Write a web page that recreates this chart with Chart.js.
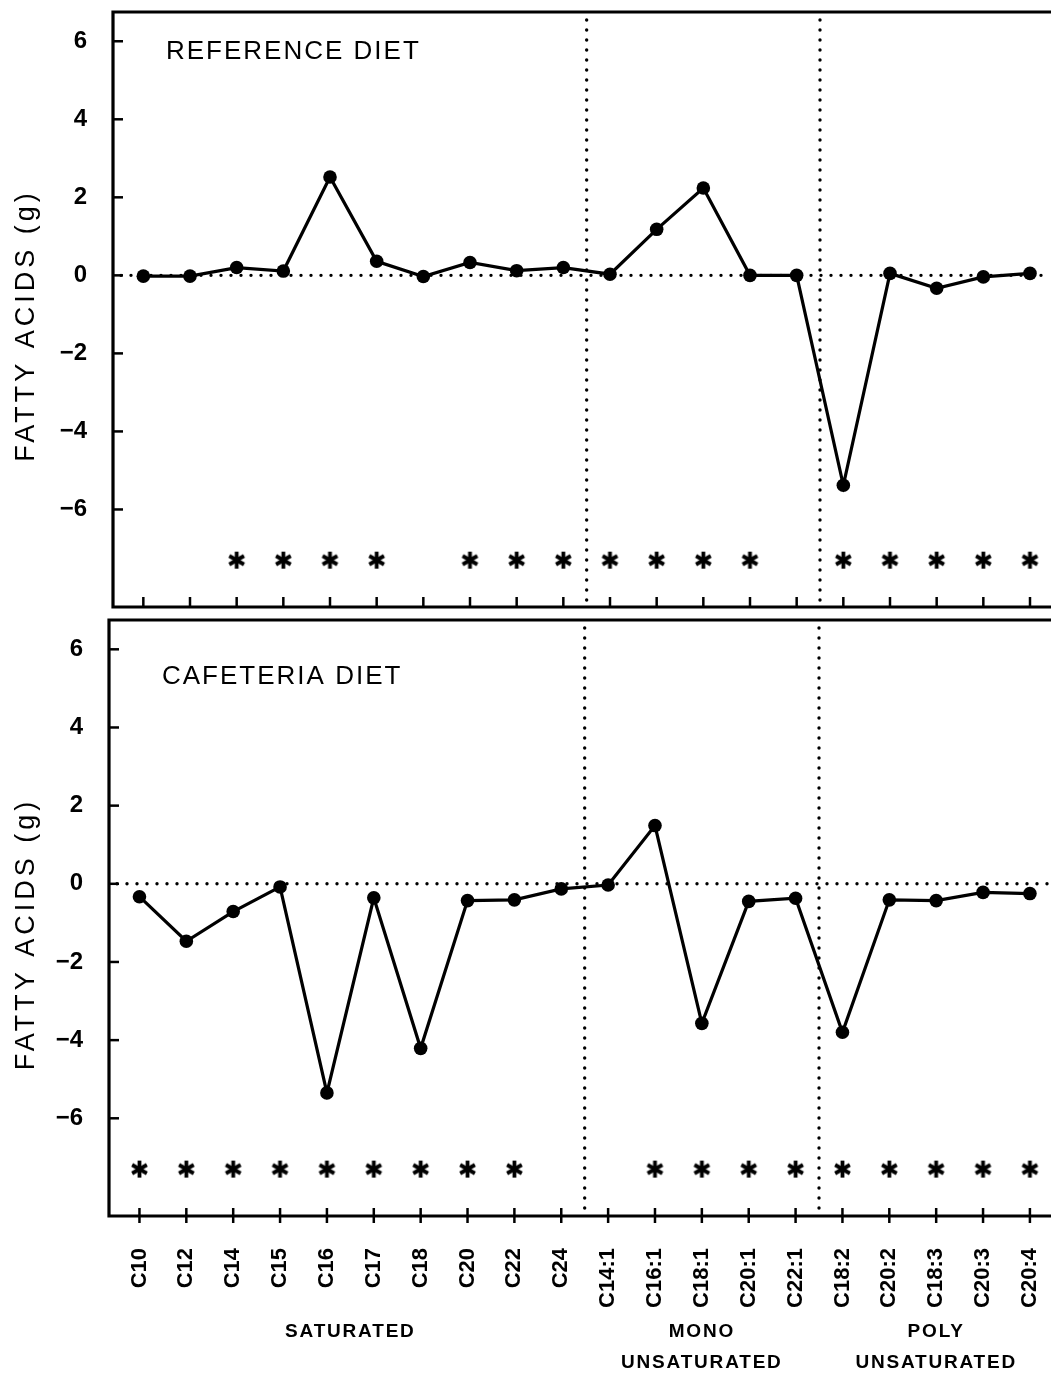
<!DOCTYPE html>
<html>
<head>
<meta charset="utf-8">
<script src="https://cdn.jsdelivr.net/npm/chart.js@4.4.1/dist/chart.umd.min.js"></script>
<style>
  html, body { margin: 0; padding: 0; background: #fff; overflow: hidden; }
  #wrap { position: relative; width: 1051px; height: 1375px; }
  canvas { position: absolute; left: 0; }
  #topChart { top: 0; }
  #bottomChart { top: 612px; }
</style>
</head>
<body>
<div id="wrap">
  <canvas id="topChart" width="1051" height="615"></canvas>
  <canvas id="bottomChart" width="1051" height="763"></canvas>
</div>
<script>
// fatty acids on the x axis
const categories = ['C10', 'C12', 'C14', 'C15', 'C16', 'C17', 'C18', 'C20', 'C22', 'C24',
  'C14:1', 'C16:1', 'C18:1', 'C20:1', 'C22:1',
  'C18:2', 'C20:2', 'C18:3', 'C20:3', 'C20:4'];

// change in fatty acids (g)
const referenceDiet = [-0.02, -0.02, 0.2, 0.11, 2.52, 0.36, -0.03, 0.33, 0.12, 0.2,
  0.03, 1.18, 2.24, 0, 0,
  -5.38, 0.05, -0.33, -0.04, 0.05];
const cafeteriaDiet = [-0.33, -1.47, -0.71, -0.08, -5.35, -0.36, -4.21, -0.43, -0.41, -0.13,
  -0.03, 1.49, -3.57, -0.45, -0.37,
  -3.8, -0.41, -0.43, -0.22, -0.25];

// 1 = asterisk under the point
const referenceSignificant = [0, 0, 1, 1, 1, 1, 0, 1, 1, 1, 1, 1, 1, 1, 0, 1, 1, 1, 1, 1];
const cafeteriaSignificant = [1, 1, 1, 1, 1, 1, 1, 1, 1, 0, 0, 1, 1, 1, 1, 1, 1, 1, 1, 1];

const yTicks = [-6, -4, -2, 0, 2, 4, 6];
const starLevel = -7.3;

// groups of fatty acids (first/last category index)
const groupNames = [['SATURATED'], ['MONO', 'UNSATURATED'], ['POLY', 'UNSATURATED']];
const groupStart = [0, 10, 15];
const groupEnd = [9, 14, 19];

const FONT = "'Liberation Sans', Arial, sans-serif";

function makeAsterisk(size, lw) {
  const c = document.createElement('canvas');
  c.width = c.height = size;
  const g = c.getContext('2d');
  g.strokeStyle = '#000';
  g.lineWidth = lw;
  const r = size / 2 - 1;
  [90, 30, 150].forEach(a => {
    const t = a * Math.PI / 180;
    g.beginPath();
    g.moveTo(size / 2 + r * Math.cos(t), size / 2 - r * Math.sin(t));
    g.lineTo(size / 2 - r * Math.cos(t), size / 2 + r * Math.sin(t));
    g.stroke();
  });
  return c;
}
const asterisk = makeAsterisk(19, 3.8);

const panelDecor = {
  id: 'panelDecor',
  beforeDatasetsDraw(chart) {
    const {ctx, chartArea: a, scales: {x, y}} = chart;
    ctx.save();
    ctx.strokeStyle = '#000';
    ctx.lineWidth = 3.4;
    ctx.lineCap = 'round';
    ctx.setLineDash([0, 10]);
    const y0 = y.getPixelForValue(0);
    ctx.beginPath();
    ctx.moveTo(a.left + 8, y0);
    ctx.lineTo(a.right, y0);
    ctx.stroke();
    // dividers between groups
    groupStart.slice(1).forEach(s => {
      const px = x.getPixelForValue(s - 0.5);
      ctx.beginPath();
      ctx.moveTo(px, a.top + 8);
      ctx.lineTo(px, a.bottom);
      ctx.stroke();
    });
    ctx.restore();
  },
  afterDraw(chart, args, opts) {
    const {ctx, chartArea: a, scales: {x, y}} = chart;
    ctx.save();
    ctx.strokeStyle = '#000';
    ctx.fillStyle = '#000';
    ctx.lineWidth = 3.2;
    // frame: top, left, bottom
    ctx.beginPath();
    ctx.moveTo(a.right, a.top);
    ctx.lineTo(a.left, a.top);
    ctx.lineTo(a.left, a.bottom);
    ctx.lineTo(a.right, a.bottom);
    ctx.stroke();

    // inward tick marks
    ctx.lineWidth = 2.5;
    yTicks.forEach(v => {
      const py = y.getPixelForValue(v);
      ctx.beginPath();
      ctx.moveTo(a.left, py);
      ctx.lineTo(a.left + 10, py);
      ctx.stroke();
    });
    categories.forEach((c, i) => {
      const px = x.getPixelForValue(i);
      ctx.beginPath();
      ctx.moveTo(px, a.bottom - opts.tickUp);
      ctx.lineTo(px, a.bottom + opts.tickDown);
      ctx.stroke();
    });

    // panel title
    ctx.font = '26px ' + FONT;
    ctx.letterSpacing = '2px';
    ctx.textBaseline = 'middle';
    ctx.textAlign = 'left';
    ctx.fillText(opts.title, a.left + 53, a.top + opts.titleOffset);

    // y axis title
    ctx.font = '27px ' + FONT;
    ctx.letterSpacing = '4px';
    ctx.textAlign = 'center';
    ctx.save();
    ctx.translate(27, (a.top + a.bottom) / 2 + 16);
    ctx.rotate(-Math.PI / 2);
    ctx.fillText('FATTY ACIDS (g)', 0, 0);
    ctx.restore();

    // group labels under the x axis
    if (opts.groups) {
      ctx.font = 'bold 19px ' + FONT;
      ctx.letterSpacing = '1.8px';
      groupNames.forEach((lines, k) => {
        const cx = x.getPixelForValue((groupStart[k] + groupEnd[k]) / 2);
        lines.forEach((t, j) => ctx.fillText(t, cx, a.bottom + 116 + j * 31));
      });
    }
    ctx.restore();
  }
};

function makeChart(id, values, flags, o) {
  return new Chart(document.getElementById(id), {
    type: 'line',
    data: {
      datasets: [
        {
          data: values.map((v, i) => ({x: i, y: v})),
          borderColor: '#000',
          borderWidth: 3.2,
          tension: 0,
          pointRadius: 6.8,
          pointBackgroundColor: '#000',
          pointBorderWidth: 0,
        },
        {
          data: flags.map((f, i) => ({x: i, y: f ? starLevel : null})),
          showLine: false,
          pointStyle: asterisk,
          pointRadius: 10,
        },
      ],
    },
    options: {
      responsive: false,
      animation: false,
      layout: {autoPadding: false, padding: {top: o.padTop, bottom: o.padBottom, left: 0, right: 0}},
      plugins: {
        legend: {display: false},
        tooltip: {enabled: false},
        panelDecor: {title: o.title, titleOffset: o.titleOffset, tickUp: o.tickUp, tickDown: o.tickDown, groups: o.groups},
      },
      scales: {
        x: {
          type: 'linear',
          min: -0.65,
          max: 19.45,
          grid: {display: false},
          border: {display: false},
          afterBuildTicks: s => { s.ticks = categories.map((c, i) => ({value: i})); },
          ticks: {
            display: o.groups,
            autoSkip: false,
            minRotation: 90,
            maxRotation: 90,
            padding: 24,
            color: '#000',
            font: {family: FONT, size: 22, weight: 'bold'},
            callback: v => categories[v],
          },
          afterFit: s => { s.height = o.xHeight; s.paddingLeft = 0; s.paddingRight = 0; },
        },
        y: {
          min: -8.5,
          max: 6.75,
          grid: {display: false},
          border: {display: false},
          afterBuildTicks: s => { s.ticks = yTicks.map(v => ({value: v})); },
          ticks: {
            color: '#000',
            padding: 18,
            font: {family: FONT, size: 24, weight: 'bold'},
            callback: v => (v < 0 ? '\u2212' + Math.abs(v) : String(v)),
          },
          afterFit: s => { s.width = o.yWidth; s.paddingTop = 0; s.paddingBottom = 0; },
        },
      },
    },
    plugins: [panelDecor],
  });
}

makeChart('topChart', referenceDiet, referenceSignificant, {
  title: 'REFERENCE DIET', titleOffset: 40, padTop: 12, padBottom: 8, xHeight: 0, yWidth: 113,
  tickUp: 10, tickDown: 0, groups: false,
});
makeChart('bottomChart', cafeteriaDiet, cafeteriaSignificant, {
  title: 'CAFETERIA DIET', titleOffset: 57, padTop: 8, padBottom: 0, xHeight: 159, yWidth: 109,
  tickUp: 8, tickDown: 7, groups: true,
});
</script>
</body>
</html>
